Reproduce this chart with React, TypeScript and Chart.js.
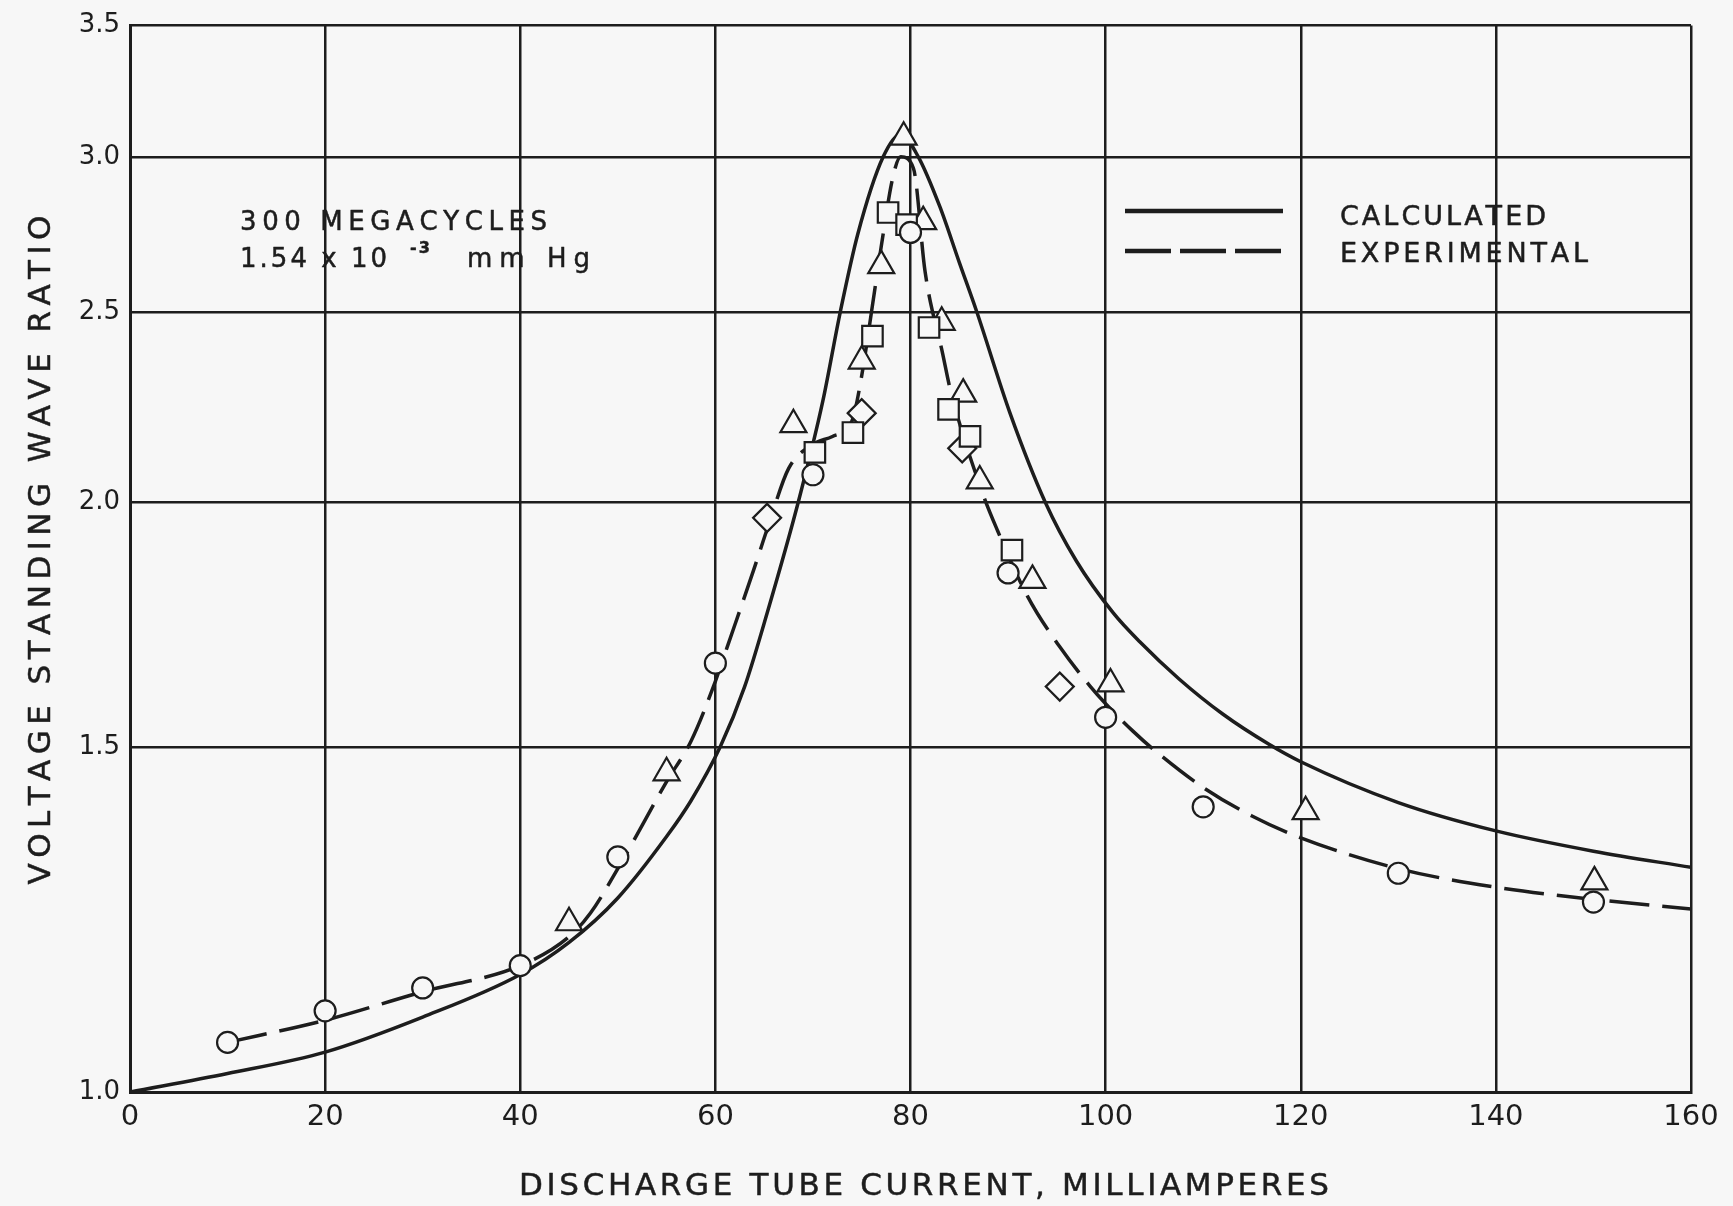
import React, { useEffect, useRef } from 'react';
import { Chart, registerables } from 'chart.js';

Chart.register(...registerables);

// ---------- data ----------
const xTickStep = 20;
const xMin = 0;
const xMax = 160;
const yTicks = [1.0, 1.5, 2.0, 2.5, 3.0, 3.5];

// calculated curve (solid)
const calcX = [0, 10, 20, 30, 40, 45, 50, 55, 57.5, 60.5, 63, 65.3, 68.5, 71, 72.8, 74.6, 77.2, 79, 80.8, 83, 85, 86.8, 90.2, 93.8, 97, 100.8, 103.5, 107.5, 112, 116.7, 120, 130, 140, 150, 160];
const calcY = [1.0, 1.022, 1.048, 1.092, 1.148, 1.192, 1.256, 1.35, 1.408, 1.5, 1.61, 1.755, 2.0, 2.25, 2.5, 2.74, 3.0, 3.08, 3.0, 2.83, 2.65, 2.5, 2.22, 2.0, 1.866, 1.755, 1.697, 1.625, 1.559, 1.505, 1.474, 1.405, 1.359, 1.327, 1.302];

// experimental curve (dashed)
const expX = [10, 20, 30, 40, 45, 47.2, 50, 55, 57.5, 60, 61.2, 63.9, 65.5, 67.5, 70, 72, 74, 75, 76, 77, 78.2, 79, 80.3, 81.5, 83.3, 84.1, 87.4, 88.9, 92, 95.3, 98.4, 100, 102.8, 104.8, 110, 115, 120, 130, 140, 150, 160];
const expY = [1.06, 1.088, 1.125, 1.16, 1.2, 1.234, 1.3, 1.44, 1.51, 1.62, 1.686, 1.845, 1.95, 2.08, 2.14, 2.16, 2.2, 2.32, 2.5, 2.7, 2.93, 3.0, 2.96, 2.62, 2.38, 2.28, 2.02, 1.935, 1.79, 1.687, 1.611, 1.578, 1.528, 1.497, 1.43, 1.383, 1.348, 1.3, 1.272, 1.254, 1.24];

// measured points
const circleX = [10, 20, 30, 40, 50, 60, 70, 80, 90, 100, 110, 130, 150];
const circleY = [1.06, 1.1, 1.13, 1.16, 1.318, 1.655, 2.065, 2.745, 1.84, 1.553, 1.398, 1.293, 1.25];
const triangleX = [45, 55, 68, 75, 77, 79.3, 81.3, 83.2, 85.4, 87.1, 92.5, 100.5, 120.5, 150.1];
const triangleY = [1.22, 1.455, 2.19, 2.36, 2.64, 3.07, 2.78, 2.47, 2.27, 2.05, 1.824, 1.615, 1.39, 1.28];
const squareX = [70.2, 74.1, 76.1, 77.7, 79.6, 81.9, 83.9, 86.1, 90.4];
const squareY = [2.12, 2.17, 2.43, 2.81, 2.77, 2.455, 2.23, 2.16, 1.89];
const diamondX = [65.3, 75, 85.3, 95.3];
const diamondY = [1.963, 2.22, 2.13, 1.61];

// texts
const xTitle = 'DISCHARGE TUBE CURRENT, MILLIAMPERES';
const yTitle = 'VOLTAGE STANDING WAVE RATIO';
const noteLine1 = '300 MEGACYCLES';
const noteLine2a = '1.54 x 10';
const noteLine2sup = '-3';
const noteLine2b = 'mm Hg';
const legendCalc = 'CALCULATED';
const legendExp = 'EXPERIMENTAL';

// ---------- style ----------
const W = 1733;
const H = 1206;
const INK = '#1d1d1d';
const BG = '#f7f7f7';
const FONT = '"DejaVu Sans", "Liberation Sans", sans-serif';

const zip = (xs: number[], ys: number[]) => xs.map((x, i) => ({ x, y: ys[i] }));

function drawFitted(
  ctx: CanvasRenderingContext2D,
  text: string,
  x: number,
  baseline: number,
  targetWidth: number,
  align: 'left' | 'center'
) {
  const chars = [...text];
  const widths = chars.map((c) => ctx.measureText(c).width);
  const sum = widths.reduce((a, b) => a + b, 0);
  const spacing = chars.length > 1 ? (targetWidth - sum) / (chars.length - 1) : 0;
  let cx = align === 'center' ? x - targetWidth / 2 : x;
  ctx.textAlign = 'left';
  ctx.textBaseline = 'alphabetic';
  chars.forEach((c, i) => {
    ctx.fillText(c, cx, baseline);
    ctx.strokeText(c, cx, baseline);
    cx += widths[i] + spacing;
  });
}

const decorPlugin = {
  id: 'decor',
  afterDraw(chart: any) {
    const ctx: CanvasRenderingContext2D = chart.ctx;
    ctx.save();
    ctx.fillStyle = INK;
    ctx.strokeStyle = INK;
    ctx.lineWidth = 0.5;
    ctx.lineJoin = 'round';

    // axis titles
    let size = 31;
    ctx.font = `${size}px ${FONT}`;
    drawFitted(ctx, xTitle, 924, 1184 + size * 0.365, 810, 'center');

    ctx.save();
    ctx.translate(39, 550);
    ctx.rotate(-Math.PI / 2);
    drawFitted(ctx, yTitle, 0, size * 0.365, 669, 'center');
    ctx.restore();

    // note
    size = 26;
    ctx.font = `${size}px ${FONT}`;
    drawFitted(ctx, noteLine1, 240, 221 + size * 0.365, 307, 'left');
    drawFitted(ctx, noteLine2a, 240, 258 + size * 0.365, 147, 'left');
    drawFitted(ctx, noteLine2b, 467, 258 + size * 0.365, 123, 'left');
    ctx.font = `bold 16px ${FONT}`;
    drawFitted(ctx, noteLine2sup, 410, 247 + 16 * 0.365, 20, 'left');

    // legend
    ctx.lineCap = 'butt';
    ctx.lineWidth = 4.5;
    ctx.setLineDash([]);
    ctx.beginPath();
    ctx.moveTo(1125, 211);
    ctx.lineTo(1283, 211);
    ctx.stroke();
    ctx.setLineDash([46, 9]);
    ctx.beginPath();
    ctx.moveTo(1125, 251);
    ctx.lineTo(1283, 251);
    ctx.stroke();
    ctx.setLineDash([]);

    ctx.lineWidth = 0.5;
    size = 27;
    ctx.font = `${size}px ${FONT}`;
    drawFitted(ctx, legendCalc, 1340, 215 + size * 0.365, 206, 'left');
    drawFitted(ctx, legendExp, 1340, 252 + size * 0.365, 248, 'left');

    ctx.restore();
  },
};

export default function App() {
  const canvasRef = useRef<HTMLCanvasElement | null>(null);

  useEffect(() => {
    const canvas = canvasRef.current;
    if (!canvas) return;

    const markerBase = {
      type: 'scatter' as const,
      showLine: false,
      backgroundColor: BG,
      borderColor: INK,
      borderWidth: 2.2,
      order: 0,
    };

    const chart = new Chart(canvas, {
      type: 'scatter',
      data: {
        datasets: [
          {
            ...markerBase,
            label: 'circles',
            data: zip(circleX, circleY),
            pointStyle: 'circle',
            pointRadius: 10.5,
          },
          {
            ...markerBase,
            label: 'squares',
            data: zip(squareX, squareY),
            pointStyle: 'rect',
            pointRadius: 14.5,
          },
          {
            ...markerBase,
            label: 'diamonds',
            data: zip(diamondX, diamondY),
            pointStyle: 'rectRot',
            pointRadius: 14,
          },
          {
            ...markerBase,
            label: 'triangles',
            data: zip(triangleX, triangleY),
            pointStyle: 'triangle',
            pointRadius: 15,
          },
          {
            type: 'line' as const,
            label: 'EXPERIMENTAL',
            data: zip(expX, expY),
            borderColor: INK,
            borderWidth: 3.5,
            borderDash: [40, 13],
            pointRadius: 0,
            fill: false,
            cubicInterpolationMode: 'monotone' as const,
            order: 5,
          },
          {
            type: 'line' as const,
            label: 'CALCULATED',
            data: zip(calcX, calcY),
            borderColor: INK,
            borderWidth: 3.5,
            pointRadius: 0,
            fill: false,
            cubicInterpolationMode: 'monotone' as const,
            order: 6,
          },
        ],
      },
      options: {
        responsive: false,
        animation: false,
        devicePixelRatio: 1,
        layout: { padding: { left: 0, right: 42, top: 25, bottom: 0 } },
        plugins: {
          legend: { display: false },
          tooltip: { enabled: false },
        },
        scales: {
          x: {
            type: 'linear',
            min: xMin,
            max: xMax,
            ticks: {
              stepSize: xTickStep,
              color: INK,
              padding: 8,
              maxRotation: 0,
              font: { family: FONT, size: 29 },
            },
            grid: { color: INK, lineWidth: 2.5, drawTicks: false },
            border: { display: true, color: INK, width: 3 },
            afterFit: (s: any) => {
              s.height = 114;
            },
          },
          y: {
            type: 'logarithmic',
            min: yTicks[0],
            max: yTicks[yTicks.length - 1],
            afterBuildTicks: (s: any) => {
              s.ticks = yTicks.map((v) => ({ value: v }));
            },
            ticks: {
              color: INK,
              padding: 10,
              font: { family: FONT, size: 26 },
              callback: (v: any) => Number(v).toFixed(1),
            },
            grid: { color: INK, lineWidth: 2.5, drawTicks: false },
            border: { display: true, color: INK, width: 3 },
            afterFit: (s: any) => {
              s.width = 130;
            },
          },
        },
      },
      plugins: [decorPlugin],
    });

    return () => chart.destroy();
  }, []);

  return (
    <div
      style={{
        position: 'fixed',
        left: 0,
        top: 0,
        width: W,
        height: H,
        background: BG,
      }}
    >
      <canvas ref={canvasRef} width={W} height={H} style={{ display: 'block', width: W, height: H }} />
    </div>
  );
}
